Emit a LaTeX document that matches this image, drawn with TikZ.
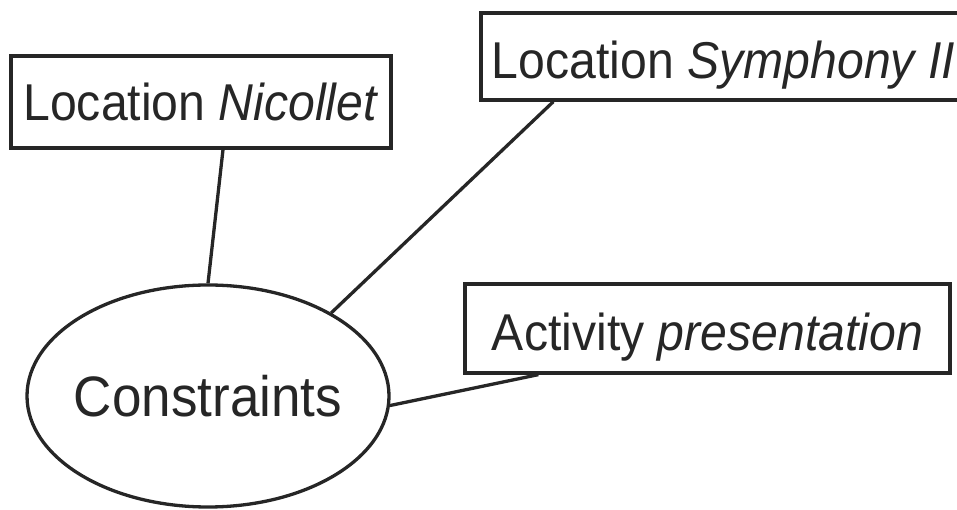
\documentclass[tikz,border=0pt]{standalone}
\usepackage{fontspec}
\setmainfont{Liberation Sans}[FakeStretch=0.93]
\usetikzlibrary{shapes.geometric,calc}
\definecolor{ink}{HTML}{262626}
\begin{document}
\begin{tikzpicture}[x=1pt,y=1pt,
  every node/.style={text=ink},
  labelbox/.style={draw=ink, line width=3.3pt, rectangle, inner sep=0pt,
    font=\fontsize{51.8}{60}\selectfont, text depth=0pt},
  hub/.style={draw=ink, line width=3.3pt, ellipse, inner sep=0pt,
    minimum width=362pt, minimum height=222pt,
    font=\fontsize{57}{64}\selectfont, text height=40.8pt, text depth=0pt},
  link/.style={draw=ink, line width=3.3pt}]
\useasboundingbox (0,0) rectangle (957,510);

% concept nodes (the hub text is boxed at zero width so the ellipse keeps its set size)
\node[hub] (con) at (208,114) {\makebox[0pt]{Constraints}};
\node[labelbox, minimum width=380pt, minimum height=92pt, text height=37.1pt]
  (nic) at (201,408) {Location \textit{Nicollet}};
\node[labelbox, minimum width=485pt, minimum height=87pt, text height=45pt]
  (sym) at (723.5,453.5) {Location \textit{Symphony II}};
\node[labelbox, minimum width=485pt, minimum height=89pt, text height=45pt]
  (act) at (707.5,181.5) {Activity \textit{presentation}};

% connectors
\draw[link] (con.north) -- ([xshift=22pt]nic.south);
\draw[link] (con.34) -- ([xshift=74pt]sym.south west);
\draw[link] (con.-3) -- ([xshift=75pt]act.south west);
\end{tikzpicture}
\end{document}
